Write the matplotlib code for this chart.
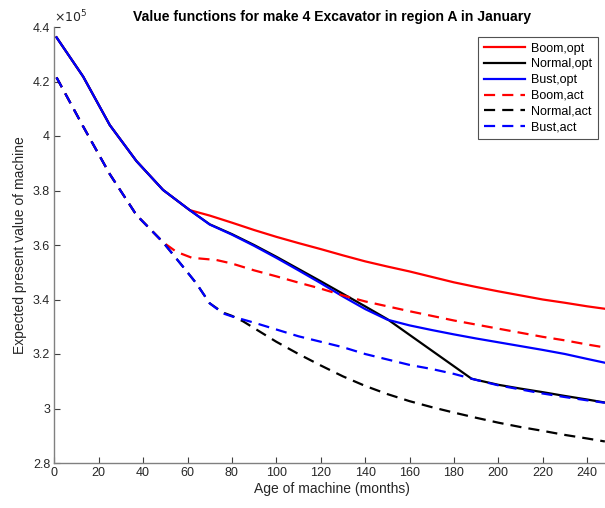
import matplotlib
matplotlib.use('Agg')
import matplotlib.pyplot as plt
from matplotlib.ticker import FuncFormatter

# data (values in dollars / 1e5)
boom_opt_x = [1, 13, 25, 37, 49, 61, 70, 80, 90, 100, 110, 120, 130, 140, 150, 160, 170, 180, 190, 200, 210, 220, 230, 240, 248]
boom_opt_y = [4.362, 4.218, 4.040, 3.908, 3.802, 3.728, 3.708, 3.682, 3.655, 3.630, 3.607, 3.585, 3.562, 3.540, 3.521, 3.503, 3.483, 3.463, 3.446, 3.430, 3.415, 3.400, 3.388, 3.375, 3.366]

normal_opt_x = [1, 13, 25, 37, 49, 61, 70, 80, 90, 100, 110, 120, 130, 140, 150, 188, 200, 210, 220, 230, 240, 248]
normal_opt_y = [4.362, 4.218, 4.040, 3.908, 3.802, 3.728, 3.676, 3.640, 3.600, 3.557, 3.512, 3.467, 3.421, 3.375, 3.328, 3.109, 3.087, 3.073, 3.060, 3.046, 3.033, 3.022]

bust_opt_x = [1, 13, 25, 37, 49, 61, 70, 80, 90, 100, 110, 120, 130, 140, 150, 160, 170, 180, 190, 200, 210, 220, 230, 240, 248]
bust_opt_y = [4.362, 4.218, 4.040, 3.908, 3.802, 3.728, 3.675, 3.638, 3.597, 3.553, 3.507, 3.460, 3.411, 3.365, 3.326, 3.305, 3.288, 3.272, 3.257, 3.243, 3.229, 3.215, 3.200, 3.182, 3.168]

boom_act_x = [1, 13, 25, 37, 49, 55, 62, 73, 80, 90, 100, 110, 120, 130, 140, 150, 160, 170, 180, 190, 200, 210, 220, 230, 240, 248]
boom_act_y = [4.215, 4.035, 3.860, 3.710, 3.610, 3.575, 3.553, 3.545, 3.532, 3.507, 3.485, 3.462, 3.440, 3.415, 3.393, 3.375, 3.357, 3.340, 3.323, 3.308, 3.293, 3.278, 3.263, 3.250, 3.235, 3.224]

normal_act_x = [1, 13, 25, 37, 49, 58, 64, 70, 76, 80, 85, 90, 100, 110, 120, 130, 140, 150, 160, 170, 180, 190, 200, 210, 220, 230, 240, 248]
normal_act_y = [4.215, 4.035, 3.860, 3.710, 3.610, 3.520, 3.459, 3.386, 3.352, 3.340, 3.320, 3.295, 3.245, 3.200, 3.158, 3.118, 3.083, 3.053, 3.027, 3.005, 2.985, 2.966, 2.948, 2.932, 2.918, 2.903, 2.890, 2.879]

bust_act_x = [1, 13, 25, 37, 49, 58, 64, 70, 76, 80, 90, 100, 110, 120, 130, 140, 150, 160, 170, 180, 190, 200, 210, 220, 230, 240, 248]
bust_act_y = [4.215, 4.035, 3.860, 3.710, 3.610, 3.520, 3.459, 3.386, 3.349, 3.338, 3.315, 3.290, 3.265, 3.245, 3.225, 3.200, 3.180, 3.160, 3.145, 3.127, 3.105, 3.085, 3.070, 3.055, 3.042, 3.030, 3.021]

labels = ['Boom,opt', 'Normal,opt', 'Bust,opt', 'Boom,act', 'Normal,act', 'Bust,act']

plt.rcParams['font.family'] = ['Liberation Sans', 'DejaVu Sans']

fig = plt.figure(figsize=(6.05, 5.08), dpi=100)
W, H = 605.0, 508.0
# axes run a bit past the right edge (xlim 0..250, picture is cropped)
ax = fig.add_axes([54.3 / W, 1 - 463 / H, 555 / W, 436 / H])

scale = 1e5
series = [
    (boom_opt_x, boom_opt_y, 'red', '-'),
    (normal_opt_x, normal_opt_y, 'black', '-'),
    (bust_opt_x, bust_opt_y, 'blue', '-'),
    (boom_act_x, boom_act_y, 'red', '--'),
    (normal_act_x, normal_act_y, 'black', '--'),
    (bust_act_x, bust_act_y, 'blue', '--'),
]
for (xs, ys, c, ls), lab in zip(series, labels):
    line, = ax.plot(xs, [v * scale for v in ys], color=c, linestyle=ls, linewidth=1.6, label=lab)
    if ls == '--':
        line.set_dashes((5, 3.2))

ax.set_xlim(0, 250)
ax.set_ylim(2.8e5, 4.4e5)
ax.set_xticks(range(0, 241, 20))
ax.set_yticks([2.8e5, 3.0e5, 3.2e5, 3.4e5, 3.6e5, 3.8e5, 4.0e5, 4.2e5, 4.4e5])
ax.yaxis.set_major_formatter(FuncFormatter(lambda v, p: '%g' % round(v / scale, 2)))

gray = '#262626'
for s in ['top', 'right']:
    ax.spines[s].set_visible(False)
for s in ['left', 'bottom']:
    ax.spines[s].set_color('#808080')
    ax.spines[s].set_linewidth(1.0)
ax.tick_params(direction='in', length=4, width=0.8, colors=gray, labelsize=9, pad=3)
ax.tick_params(axis='both', color='#404040')

ax.text(0.0, 1.003, r'$\times10^5$', transform=ax.transAxes, fontsize=9, color=gray,
        ha='left', va='bottom')

ax.set_xlabel('Age of machine (months)', fontsize=10, color=gray, labelpad=2)
ax.set_ylabel('Expected present value of machine', fontsize=10, color=gray, labelpad=4)
fig.text(332 / W, 1 - 17 / H, 'Value functions for make 4 Excavator in region A in January',
         ha='center', va='center', fontsize=10.1, fontweight='bold')

leg = ax.legend(loc='upper right', bbox_to_anchor=(598 / W, 1 - 37 / H), bbox_transform=fig.transFigure,
                fontsize=9, frameon=True, fancybox=False, edgecolor='#262626', borderaxespad=0,
                handlelength=3.3, handletextpad=0.5, borderpad=0.45, labelspacing=0.3)
leg.get_frame().set_linewidth(0.8)

plt.savefig('out.png', dpi=100)
